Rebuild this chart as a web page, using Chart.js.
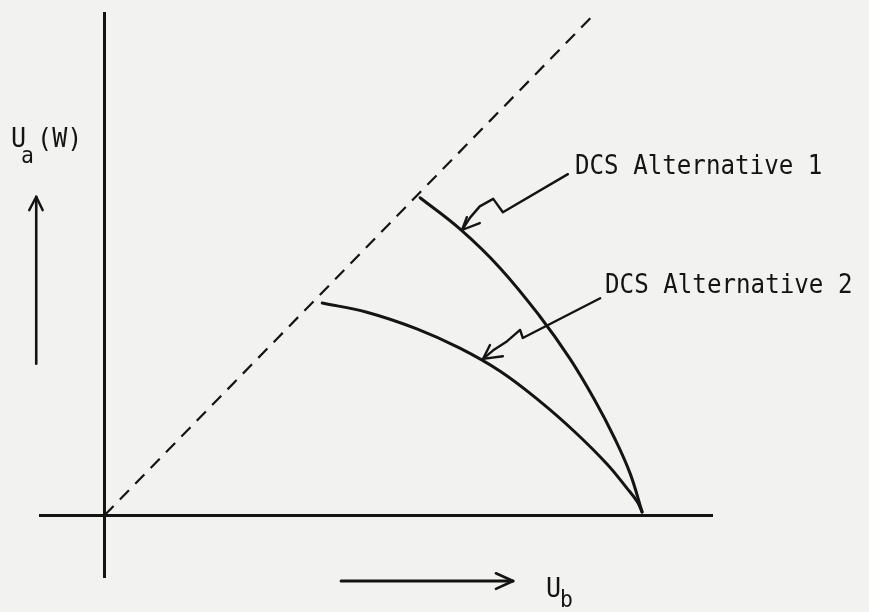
<!DOCTYPE html>
<html lang="en">
<head>
<meta charset="UTF-8">
<title>DCS alternatives, U_a(W) against U_b</title>
<script src="https://cdn.jsdelivr.net/npm/chart.js"></script>
<style>
  html, body { margin: 0; padding: 0; background: #f2f2f0; }
  canvas { display: block; }
</style>
</head>
<body>
<canvas id="tradeoff" width="869" height="612"></canvas>
<script>
  // U_b on x, U_a(W) on y, scaled so both curves reach the U_b axis at 1
  const diagonal = [[0, 0], [0.915, 0.937]];
  const alternative1 = [[0.587, 0.591], [0.661, 0.533], [0.736, 0.460], [0.810, 0.370], [0.866, 0.291],
                        [0.912, 0.214], [0.950, 0.141], [0.978, 0.077], [1.0, 0.006]];
  const alternative2 = [[0.405, 0.395], [0.488, 0.378], [0.581, 0.347], [0.661, 0.311], [0.736, 0.268],
                        [0.810, 0.212], [0.875, 0.155], [0.935, 0.095], [0.972, 0.050], [0.991, 0.025],
                        [1.0, 0.006]];

  // leader lines from the labels, with their arrowheads
  const leader1 = [[0.862, 0.635], [0.741, 0.564], [0.723, 0.589], [0.698, 0.575], [0.680, 0.554], [0.665, 0.531]];
  const head1 = [[0.674, 0.555], [0.665, 0.531], [0.698, 0.544]];
  const leader2 = [[0.922, 0.404], [0.778, 0.330], [0.773, 0.345], [0.749, 0.324], [0.723, 0.307], [0.704, 0.291]];
  const head2 = [[0.717, 0.317], [0.704, 0.291], [0.741, 0.296]];

  // direction arrows beside the axis names (points listed right to left so none get culled)
  const arrowUa = [[-0.127, 0.282], [-0.127, 0.593]];
  const headUa = [[-0.115, 0.568], [-0.127, 0.593], [-0.140, 0.568]];
  const arrowUb = [[0.440, -0.1225], [0.760, -0.1225]];
  const headUb = [[0.728, -0.108], [0.760, -0.1225], [0.728, -0.137]];

  const seriesNames = ['DCS Alternative 1', 'DCS Alternative 2'];

  const INK = '#141414';
  const FONT = '"DejaVu Sans Mono", "Liberation Mono", monospace';

  const toPoints = arr => arr.map(([x, y]) => ({ x, y }));

  function stroke(points, width, extra) {
    return Object.assign({
      data: toPoints(points),
      showLine: true,
      borderColor: INK,
      borderWidth: width,
      pointRadius: 0,
      pointHoverRadius: 0,
      tension: 0,
      clip: false,
      borderCapStyle: 'round',
      borderJoinStyle: 'round'
    }, extra || {});
  }

  // typewriter lettering is narrower than DejaVu Sans Mono, so squeeze it a little
  function letter(ctx, str, px, py, size) {
    ctx.save();
    ctx.translate(px, py);
    ctx.scale(0.93, 1);
    ctx.font = size + 'px ' + FONT;
    ctx.fillText(str, 0, 0);
    ctx.restore();
  }

  const figureText = {
    id: 'figureText',
    afterDatasetsDraw(chart) {
      const { ctx, scales: { x, y } } = chart;
      ctx.save();
      ctx.fillStyle = INK;
      ctx.textBaseline = 'alphabetic';
      ctx.textAlign = 'left';

      letter(ctx, seriesNames[0], x.getPixelForValue(0.875), y.getPixelForValue(0.635), 26);
      letter(ctx, seriesNames[1], x.getPixelForValue(0.931), y.getPixelForValue(0.414), 26);

      // U_a(W)
      let px = x.getPixelForValue(-0.172), py = y.getPixelForValue(0.686);
      letter(ctx, 'U', px - 1, py, 27);
      letter(ctx, 'a', px + 9, py + 16, 23);
      letter(ctx, '(W)', px + 25, py, 27);

      // U_b
      px = x.getPixelForValue(0.823); py = y.getPixelForValue(-0.152);
      letter(ctx, 'U', px - 1, py, 27);
      letter(ctx, 'b', px + 13, py + 10, 23);
      ctx.restore();
    }
  };

  const axisLine = { display: true, color: INK, width: 3 };

  new Chart(document.getElementById('tradeoff'), {
    type: 'scatter',
    data: {
      datasets: [
        stroke(diagonal, 2.2, { borderDash: [13, 9], borderCapStyle: 'butt' }),
        stroke(alternative1, 3, { label: seriesNames[0], tension: 0.4 }),
        stroke(alternative2, 3, { label: seriesNames[1], tension: 0.4 }),
        stroke(leader1, 2.4),
        stroke(head1, 2.4),
        stroke(leader2, 2.4),
        stroke(head2, 2.4),
        stroke(arrowUa, 2.6),
        stroke(headUa, 2.4),
        stroke(arrowUb, 3),
        stroke(headUb, 2.6)
      ]
    },
    options: {
      responsive: false,
      animation: false,
      events: [],
      layout: { padding: { left: 40, right: 157, top: 13, bottom: 35 } },
      plugins: {
        legend: { display: false },
        tooltip: { enabled: false }
      },
      scales: {
        x: {
          type: 'linear',
          min: -0.12,
          max: 1.13,
          position: { y: 0 },
          grid: { display: false, drawTicks: false },
          ticks: { display: false },
          border: axisLine
        },
        y: {
          type: 'linear',
          min: -0.115,
          max: 0.935,
          position: { x: 0 },
          grid: { display: false, drawTicks: false },
          ticks: { display: false },
          border: axisLine
        }
      }
    },
    plugins: [figureText]
  });
</script>
</body>
</html>
